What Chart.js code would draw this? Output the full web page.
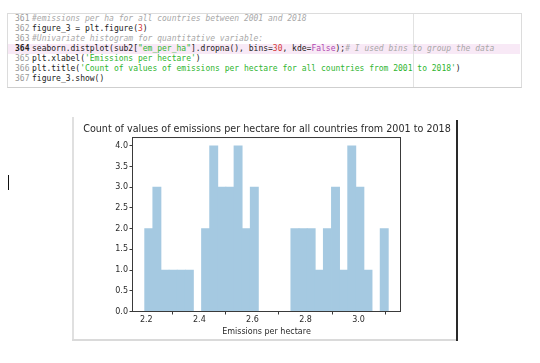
<!DOCTYPE html>
<html>
<head>
<meta charset="utf-8">
<script src="https://cdn.jsdelivr.net/npm/chart.js@4/dist/chart.umd.min.js"></script>
<style>
  html, body { margin: 0; padding: 0; background: #fff; width: 540px; height: 363px; overflow: hidden; }
  #page { position: relative; width: 540px; height: 363px; }
  .abs { position: absolute; }
  #codebox { left: 7px; top: 13px; width: 513px; height: 73px; border: 1px solid #dcdcdc; border-bottom-color: #cfcfcf; background: #fff; }
  #hl { left: 8px; top: 44px; width: 512px; height: 10px; background: #f8e9f6; }
  #margin { left: 413px; top: 14px; width: 1px; height: 73px; background: #e2e2e2; }
  .ln, .code { font-family: "DejaVu Sans Mono", monospace; font-size: 8px; line-height: 10px; white-space: pre; }
  .ln { left: 15px; color: #9a9a9a; }
  .ln.b { color: #222; font-weight: bold; }
  .code { left: 32px; color: #1a1a1a; }
  .cm { color: #a8a8a8; font-style: italic; }
  .st { color: #2fb52f; }
  .nu { color: #d43a3a; }
  .kw { color: #b048b0; }
  #leftline { left: 72px; top: 117px; width: 2px; height: 224px; background: #e0e0e0; }
  #bottomline { left: 72px; top: 339px; width: 385px; height: 2px; background: #dadada; }
  #rightline { left: 456px; top: 120px; width: 1.5px; height: 221px; background: #2a2a2a; }
  #cursor { left: 8px; top: 175px; width: 1px; height: 15px; background: #111; }
  #chartwrap { left: 78px; top: 118px; width: 378px; height: 222px; }
</style>
</head>
<body>
<div id="page">
  <div id="codebox" class="abs"></div>
  <div id="hl" class="abs"></div>
  <div id="margin" class="abs"></div>

  <div class="abs ln" style="top:14px">361</div>
  <div class="abs ln" style="top:24px">362</div>
  <div class="abs ln" style="top:34px">363</div>
  <div class="abs ln b" style="top:44px">364</div>
  <div class="abs ln" style="top:54px">365</div>
  <div class="abs ln" style="top:64px">366</div>
  <div class="abs ln" style="top:74px">367</div>

  <div class="abs code" style="top:14px"><span class="cm">#emissions per ha for all countries between 2001 and 2018</span></div>
  <div class="abs code" style="top:24px">figure_3 = plt.figure(<span class="nu">3</span>)</div>
  <div class="abs code" style="top:34px"><span class="cm">#Univariate histogram for quantitative variable:</span></div>
  <div class="abs code" style="top:44px">seaborn.distplot(sub2[<span class="st">"em_per_ha"</span>].dropna(), bins=<span class="nu">30</span>, kde=<span class="kw">False</span>);<span class="cm"># I used bins to group the data</span></div>
  <div class="abs code" style="top:54px">plt.xlabel(<span class="st">'Emissions per hectare'</span>)</div>
  <div class="abs code" style="top:64px">plt.title(<span class="st">'Count of values of emissions per hectare for all countries from 2001 to 2018'</span>)</div>
  <div class="abs code" style="top:74px">figure_3.show()</div>

  <div id="leftline" class="abs"></div>
  <div id="bottomline" class="abs"></div>
  <div id="rightline" class="abs"></div>
  <div id="cursor" class="abs"></div>

  <div id="chartwrap" class="abs"><canvas id="c" width="378" height="222"></canvas></div>
</div>

<script>
// ---- data (30 bins) ----
const binEdges = [2.1940, 2.2246, 2.2552, 2.2858, 2.3164, 2.3470, 2.3776, 2.4082, 2.4388, 2.4694,
                  2.5000, 2.5306, 2.5612, 2.5918, 2.6224, 2.6530, 2.6836, 2.7142, 2.7448, 2.7754,
                  2.8060, 2.8366, 2.8672, 2.8978, 2.9284, 2.9590, 2.9896, 3.0202, 3.0508, 3.0814, 3.1120];
const binCounts = [2, 3, 1, 1, 1, 1, 0, 2, 4, 3,
                   3, 4, 2, 3, 0, 0, 0, 0, 2, 2,
                   2, 1, 2, 3, 1, 4, 3, 1, 0, 2];
const xTickValues = [2.2, 2.4, 2.6, 2.8, 3.0];
const yTickValues = [0, 0.5, 1.0, 1.5, 2.0, 2.5, 3.0, 3.5, 4.0];
const xRange = [2.148, 3.158];
const yRange = [0, 4.2];
const chartTitle = 'Count of values of emissions per hectare for all countries from 2001 to 2018';
const xLabel = 'Emissions per hectare';

const points = binCounts.map((c, i) => ({ x: (binEdges[i] + binEdges[i + 1]) / 2, y: c }));

const spineColor = '#3a3a3a';
const textColor = '#2a2a2a';

const framePlugin = {
  id: 'frame',
  afterDatasetsDraw(chart) {
    const { ctx, chartArea: a } = chart;
    ctx.save();
    ctx.strokeStyle = spineColor;
    ctx.lineWidth = 1;
    ctx.strokeRect(a.left, a.top, a.right - a.left, a.bottom - a.top);
    ctx.restore();
  }
};

new Chart(document.getElementById('c'), {
  type: 'bar',
  data: {
    datasets: [{
      data: points,
      backgroundColor: '#a5c9e1',
      borderColor: '#a5c9e1',
      borderWidth: 0,
      inflateAmount: 0.4,
      barPercentage: 1.0,
      categoryPercentage: 1.0
    }]
  },
  options: {
    responsive: false,
    animation: false,
    layout: { padding: 0 },
    plugins: {
      legend: { display: false },
      tooltip: { enabled: false },
      title: {
        display: true,
        text: chartTitle,
        color: textColor,
        font: { family: 'DejaVu Sans', size: 9.6, weight: 'normal', lineHeight: 1.2 },
        padding: { top: 6.2, bottom: 1.8 }
      }
    },
    scales: {
      x: {
        type: 'linear',
        position: 'bottom',
        min: xRange[0],
        max: xRange[1],
        offset: false,
        afterBuildTicks: s => { s.ticks = xTickValues.map(v => ({ value: v })); },
        afterFit: s => { s.height = 28.5; },
        ticks: {
          callback: v => Number(v).toFixed(1),
          color: textColor,
          font: { family: 'DejaVu Sans', size: 8 },
          padding: 0.5,
          maxRotation: 0,
          autoSkip: false
        },
        grid: { display: true, drawOnChartArea: false, drawTicks: true, tickLength: 3, tickColor: spineColor, lineWidth: 1 },
        border: { display: false },
        title: {
          display: true,
          text: xLabel,
          color: textColor,
          font: { family: 'DejaVu Sans', size: 8, lineHeight: 1.2 },
          padding: { top: 0, bottom: 3.5 }
        }
      },
      y: {
        type: 'linear',
        position: 'left',
        min: yRange[0],
        max: yRange[1],
        afterBuildTicks: s => { s.ticks = yTickValues.map(v => ({ value: v })); },
        afterFit: s => { s.width = 54.5; },
        ticks: {
          callback: v => Number(v).toFixed(1),
          color: textColor,
          font: { family: 'DejaVu Sans', size: 8 },
          padding: 1.5,
          autoSkip: false
        },
        grid: { display: true, drawOnChartArea: false, drawTicks: true, tickLength: 3, tickColor: spineColor, lineWidth: 1 },
        border: { display: false }
      },
      yRight: {
        type: 'linear',
        position: 'right',
        display: true,
        ticks: { display: false },
        grid: { display: false, drawTicks: false },
        border: { display: false },
        afterFit: s => { s.width = 55.5; }
      }
    }
  },
  plugins: [framePlugin]
});
</script>
</body>
</html>
